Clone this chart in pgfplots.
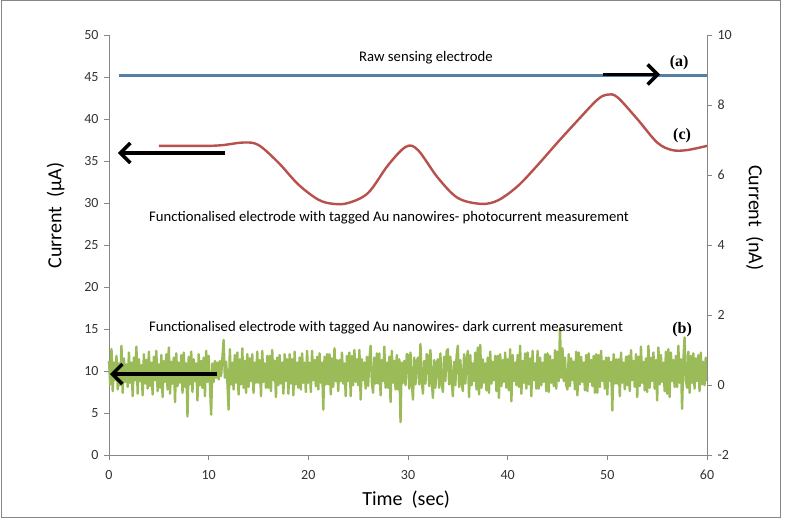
\documentclass[border=0pt]{standalone}
\usepackage{pgfplots}
\pgfplotsset{compat=1.18}
\usepackage{pgfplotstable}
\usepackage{fontspec}
\setmainfont{Carlito}
\newfontfamily\serifb{Liberation Serif}
\usetikzlibrary{arrows.meta}
\definecolor{blueA}{HTML}{5580A6}
\definecolor{redC}{HTML}{B8504D}
\definecolor{greenB}{HTML}{9BBB59}
\definecolor{axisgray}{HTML}{868686}

\pgfplotstableread{
x y
5 36.8
8 36.8
10 36.8
11.5 36.9
13.5 37.2
15 36.9
17 34.8
19 32.2
21 30.4
22.5 29.9
24 30.0
26 31.2
28 34.5
29.8 36.7
31 36.3
33 33.0
35 30.6
37.3 29.9
39 30.3
41 32.0
43 34.5
45 37.2
47 39.8
49 42.3
50 42.9
51 42.6
53 40.0
55 37.2
56.5 36.3
58 36.3
60 36.8
}\redtable

\pgfplotstableread{
x y
0 11.2
0.125 8.4
0.25 12.6
0.375 7.6
0.5 11.0
0.625 8.9
0.75 11.8
0.875 7.8
1 10.9
1.125 8.3
1.25 13.0
1.375 7.4
1.5 11.5
1.625 8.7
1.75 10.8
1.875 8.1
2 12.2
2.125 8.6
2.25 11.0
2.375 7.0
2.5 11.6
2.625 8.9
2.75 12.9
2.875 7.3
3 11.4
3.125 8.8
3.25 10.7
3.375 7.1
3.5 12.0
3.625 8.5
3.75 11.3
3.875 7.9
4 12.3
4.125 8.2
4.25 11.0
4.375 7.2
4.5 11.7
4.625 8.9
4.75 12.4
4.875 7.6
5 10.8
5.125 8.0
5.25 11.9
5.375 6.9
5.5 11.2
5.625 8.7
5.75 12.0
5.875 7.8
6 12.8
6.125 7.3
6.25 11.1
6.375 8.5
6.5 11.6
6.625 6.3
6.75 12.1
6.875 8.2
7 11.0
7.125 8.6
7.25 11.9
7.375 7.4
7.5 12.2
7.625 8.1
7.75 10.9
7.875 4.6
8 11.7
8.125 8.4
8.25 12.3
8.375 7.5
8.5 11.4
8.625 8.8
8.75 10.9
8.875 6.5
9 12.0
9.125 8.3
9.25 11.2
9.375 8.0
9.5 11.6
9.625 7.0
9.75 12.4
9.875 8.7
10 11.8
10.125 8.5
10.25 4.8
10.375 10.9
10.5 8.7
10.625 11.2
10.75 9.2
10.875 11.0
11 9.0
11.125 11.2
11.25 9.4
11.375 11.5
11.5 13.7
11.625 9.2
11.75 11.1
11.875 8.8
12 5.4
12.125 12.6
12.25 8.4
12.375 11.0
12.5 7.8
12.625 11.9
12.75 8.6
12.875 12.2
13 7.2
13.125 11.4
13.25 8.4
13.375 12.7
13.5 8.0
13.625 11.2
13.75 7.4
13.875 12.0
14 8.1
14.125 11.5
14.25 8.8
14.375 12.0
14.5 7.4
14.625 11.0
14.75 8.6
14.875 12.3
15 8.6
15.125 11.3
15.25 7.0
15.375 12.4
15.5 8.7
15.625 10.9
15.75 8.0
15.875 11.8
16 8.0
16.125 11.8
16.25 7.6
16.375 12.5
16.5 8.9
16.625 11.2
16.75 6.9
16.875 11.6
17 8.3
17.125 11.9
17.25 8.5
17.375 11.0
17.5 7.3
17.625 12.0
17.75 8.8
17.875 11.4
18 7.3
18.125 12.0
18.25 8.5
18.375 11.4
18.5 7.1
18.625 12.3
18.75 8.4
18.875 11.0
19 8.0
19.125 11.6
19.25 7.8
19.375 12.1
19.5 8.6
19.625 11.0
19.75 7.5
19.875 12.4
20 8.6
20.125 11.0
20.25 7.5
20.375 12.4
20.5 8.9
20.625 11.3
20.75 8.2
20.875 11.7
21 7.8
21.125 12.1
21.25 8.6
21.375 11.0
21.5 5.4
21.625 11.7
21.75 8.4
21.875 12.0
22 8.4
22.125 12.0
22.25 7.2
22.375 11.5
22.5 8.1
22.625 12.7
22.75 8.8
22.875 11.3
23 7.6
23.125 11.3
23.25 8.8
23.375 12.2
23.5 8.5
23.625 10.9
23.75 7.0
23.875 11.8
24 8.8
24.125 12.2
24.25 7.0
24.375 11.8
24.5 8.3
24.625 12.5
24.75 8.7
24.875 11.4
25 8.3
25.125 12.5
25.25 6.6
25.375 11.4
25.5 8.9
25.625 11.0
25.75 7.9
25.875 11.7
26 8.2
26.125 11.4
26.25 13.0
26.375 8.6
26.5 7.4
26.625 11.6
26.75 8.5
26.875 12.1
27 8.5
27.125 12.1
27.25 7.1
27.375 11.3
27.5 8.8
27.625 12.9
27.75 8.0
27.875 11.0
28 8.0
28.125 11.7
28.25 6.3
28.375 12.4
28.5 8.6
28.625 11.2
28.75 7.8
28.875 11.9
29 7.8
29.125 11.4
29.25 3.9
29.375 11.0
29.5 8.6
29.625 11.2
29.75 8.3
29.875 12.0
30 11.9
30.125 7.9
30.25 12.2
30.375 8.7
30.5 6.6
30.625 11.6
30.75 8.4
30.875 11.1
31 11.6
31.125 8.4
31.25 13.2
31.375 8.8
31.5 7.3
31.625 11.2
31.75 8.5
31.875 12.0
32 11.8
32.125 8.2
32.25 12.5
32.375 8.9
32.5 6.8
32.625 11.3
32.75 8.0
32.875 11.0
33 11.4
33.125 8.0
33.25 12.1
33.375 8.6
33.5 7.5
33.625 11.7
33.75 8.8
33.875 12.3
34 12.6
34.125 8.4
34.25 11.7
34.375 8.9
34.5 7.0
34.625 11.1
34.75 8.3
34.875 11.8
35 13.0
35.125 8.1
35.25 11.3
35.375 8.7
35.5 7.6
35.625 12.0
35.75 8.5
35.875 11.2
36 12.4
36.125 6.9
36.25 11.9
36.375 8.3
36.5 10.9
36.625 8.8
36.75 12.2
36.875 7.8
37 12.8
37.125 7.2
37.25 13.1
37.375 8.0
37.5 11.4
37.625 8.6
37.75 10.9
37.875 7.7
38 11.6
38.125 7.4
38.25 12.3
38.375 8.5
38.5 11.1
38.625 8.9
38.75 11.8
38.875 7.6
39 11.8
39.125 6.8
39.25 12.0
39.375 8.2
39.5 11.3
39.625 8.7
39.75 12.2
39.875 8.0
40 11.4
40.125 7.7
40.25 12.6
40.375 6.4
40.5 11.9
40.625 8.8
40.75 11.0
40.875 8.3
41 11.9
41.125 8.1
41.25 13.0
41.375 7.3
41.5 11.2
41.625 8.6
41.75 12.1
41.875 7.9
42 12.2
42.125 8.4
42.25 11.5
42.375 7.0
42.5 12.4
42.625 8.9
42.75 10.9
42.875 7.9
43 12.4
43.125 7.9
43.25 11.6
43.375 8.3
43.5 11.0
43.625 8.7
43.75 12.0
43.875 7.6
44 12.1
44.125 7.5
44.25 11.8
44.375 8.6
44.5 11.3
44.625 8.2
44.75 12.5
44.875 7.9
45 12.3
45.125 8.8
45.25 15.1
45.375 9.2
45.5 12.7
45.625 8.8
45.75 11.6
45.875 8.3
46 7.8
46.125 12.0
46.25 8.2
46.375 11.5
46.5 8.9
46.625 11.1
46.75 7.8
46.875 12.3
47 7.1
47.125 12.2
47.25 8.4
47.375 11.7
47.5 8.7
47.625 11.0
47.75 7.7
47.875 11.9
48 7.6
48.125 12.1
48.25 8.7
48.375 11.3
48.5 8.2
48.625 11.8
48.75 7.4
48.875 12.0
49 7.4
49.125 11.9
49.25 8.1
49.375 12.4
49.5 8.8
49.625 11.2
49.75 7.9
49.875 11.6
50 7.2
50.125 11.6
50.25 8.8
50.375 11.1
50.5 5.3
50.625 12.0
50.75 8.5
50.875 11.4
51 8.5
51.125 11.4
51.25 7.0
51.375 12.2
51.5 8.6
51.625 11.0
51.75 7.8
51.875 11.7
52 8.3
52.125 11.8
52.25 7.6
52.375 12.5
52.5 8.9
52.625 11.2
52.75 8.1
52.875 12.0
53 6.9
53.125 11.7
53.25 8.2
53.375 12.9
53.5 8.6
53.625 11.1
53.75 7.7
53.875 11.5
54 7.5
54.125 13.0
54.25 8.0
54.375 11.6
54.5 8.8
54.625 12.2
54.75 7.9
54.875 11.3
55 6.5
55.125 12.8
55.25 8.4
55.375 11.9
55.5 8.7
55.625 11.0
55.75 7.6
55.875 12.3
56 7.3
56.125 12.6
56.25 6.9
56.375 12.2
56.5 8.8
56.625 11.3
56.75 8.1
56.875 11.8
57 8.1
57.125 13.0
57.25 8.6
57.375 11.4
57.5 5.5
57.625 11.2
57.75 14.0
57.875 8.9
58 8.0
58.125 12.3
58.25 7.4
58.375 11.8
58.5 8.6
58.625 12.1
58.75 7.9
58.875 11.5
59 8.8
59.125 11.9
59.25 7.6
59.375 12.2
59.5 8.4
59.625 11.1
59.75 8.3
59.875 11.6
60 8.8
}\greentable

\begin{document}
\begin{tikzpicture}[x=1pt,y=1pt]
\path (0,0) rectangle (790,526);
\draw[axisgray, line width=1pt] (1,8) rectangle (780,525);
\begin{axis}[
  at={(109pt,71pt)}, anchor=south west,
  scale only axis, width=598pt, height=420pt,
  xmin=0, xmax=60, ymin=0, ymax=50,
  axis x line*=bottom, axis y line*=left,
  axis line style={draw=axisgray, line width=0.8pt, -},
  tick style={draw=axisgray, line width=0.8pt},
  tick align=outside, major tick length=5pt,
  xtick={0,10,...,60}, ytick={0,5,...,50},
  /pgf/number format/assume math mode=true,
  ticklabel style={font=\fontsize{14}{16}\selectfont, text=black!80},
  xticklabel style={yshift=-7pt},
  yticklabel style={xshift=-2pt},
  xlabel={Time\ \ (sec)},
  ylabel={Current\ \ (µA)},
  label style={font=\fontsize{20}{24}\selectfont},
  xlabel style={at={(axis description cs:0.497,-0.107)}, anchor=center},
  ylabel style={at={(axis description cs:-0.089,0.57)}, anchor=center},
  clip=false,
]
\addplot[greenB, line width=2.4pt, line join=round] table[x=x,y=y]{\greentable};
\addplot[redC, line width=2.4pt, smooth, tension=0.55] table[x=x,y=y]{\redtable};
\addplot[blueA, line width=2.4pt] coordinates {(1,45.2) (60,45.2)};
\draw[black, line width=3.5pt, -{Straight Barb[length=10pt,width=20pt]}] (axis cs:49.6,45.3) -- (axis cs:55.3,45.3);
\draw[black, line width=3.5pt, -{Straight Barb[length=10pt,width=20pt]}] (axis cs:11.6,35.95) -- (axis cs:0.9,35.95);
\draw[black, line width=3.5pt, -{Straight Barb[length=10pt,width=20pt]}] (axis cs:10.8,9.64) -- (axis cs:0.1,9.64);
\node[font=\fontsize{14.7}{17}\selectfont] at (axis cs:31.8,47.3) {Raw sensing electrode};
\node[font=\fontsize{14.7}{17}\selectfont] at (axis cs:28.1,28.2) {Functionalised electrode with tagged Au nanowires- photocurrent measurement};
\node[font=\fontsize{14.7}{17}\selectfont] at (axis cs:27.8,15.2) {Functionalised electrode with tagged Au nanowires- dark current measurement};
\node[font=\serifb\bfseries\fontsize{16}{18}\selectfont] at (axis cs:57.2,46.7) {(a)};
\node[font=\serifb\bfseries\fontsize{16}{18}\selectfont] at (axis cs:57.5,38.0) {(c)};
\node[font=\serifb\bfseries\fontsize{16}{18}\selectfont] at (axis cs:57.5,14.9) {(b)};
\end{axis}
\begin{axis}[
  at={(109pt,71pt)}, anchor=south west,
  scale only axis, width=598pt, height=420pt,
  xmin=0, xmax=60, ymin=-2, ymax=10,
  axis x line=none, axis y line*=right,
  axis line style={draw=axisgray, line width=0.8pt, -},
  tick style={draw=axisgray, line width=0.8pt},
  tick align=outside, major tick length=5pt,
  ytick={-2,0,...,10},
  /pgf/number format/assume math mode=true,
  ticklabel style={font=\fontsize{14}{16}\selectfont, text=black!80},
  yticklabel style={xshift=2pt},
  ylabel={Current\ \ (nA)},
  label style={font=\fontsize{20}{24}\selectfont},
  ylabel style={at={(axis description cs:1.08,0.565)}, anchor=center, rotate=180},
]
\end{axis}
\end{tikzpicture}
\end{document}
